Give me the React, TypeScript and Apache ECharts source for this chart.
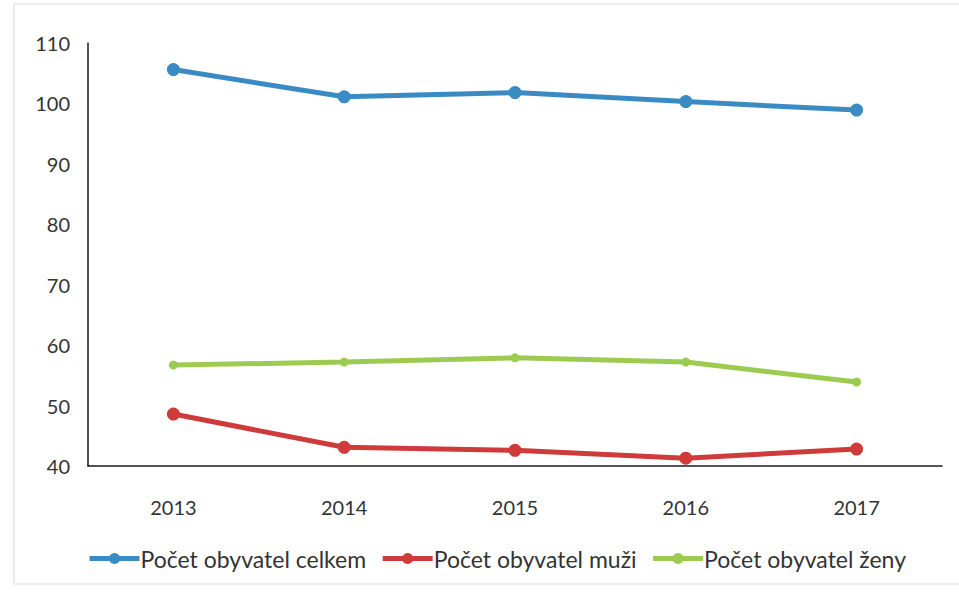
import React, { useEffect, useRef } from "react";
import * as echarts from "echarts";

const categories = ["2013", "2014", "2015", "2016", "2017"];
const celkem = [105.6, 101.1, 101.8, 100.3, 98.9];
const muzi = [48.6, 43.1, 42.6, 41.3, 42.8];
const zeny = [56.7, 57.2, 57.9, 57.2, 53.9];
const yTicks = { min: 40, max: 110, interval: 10 };

const FONT = "Lato, 'Open Sans', sans-serif";

export default function App() {
  const ref = useRef<HTMLDivElement>(null);
  useEffect(() => {
    if (!ref.current) return;
    const chart = echarts.init(ref.current, undefined, { renderer: "svg" });
    chart.setOption({
      animation: false,
      backgroundColor: "#ffffff",
      textStyle: { fontFamily: FONT },
      graphic: [
        {
          type: "rect",
          shape: { x: 14, y: 4, width: 960, height: 580 },
          style: { fill: "none", stroke: "#e6e6e6", lineWidth: 1.5 },
          silent: true,
        },
      ],
      grid: { left: 88, right: 17, top: 43, bottom: 129 },
      legend: {
        left: 82,
        top: 542,
        itemWidth: 50,
        itemHeight: 14,
        itemGap: 14,
        lineStyle: { width: 5 },
        textStyle: { fontFamily: FONT, fontSize: 23, color: "#333333", padding: [0, 0, 0, -4] },
        data: ["Počet obyvatel celkem", "Počet obyvatel muži", "Počet obyvatel ženy"],
      },
      xAxis: {
        type: "category",
        data: categories,
        boundaryGap: true,
        axisLine: { lineStyle: { color: "#1a1a1a", width: 1.5 } },
        axisTick: { show: false },
        axisLabel: { fontFamily: FONT, fontSize: 20, color: "#333333", margin: 31 },
        splitLine: { show: false },
      },
      yAxis: {
        type: "value",
        min: yTicks.min,
        max: yTicks.max,
        interval: yTicks.interval,
        axisLine: { show: true, lineStyle: { color: "#1a1a1a", width: 1.5 } },
        axisTick: { show: false },
        axisLabel: { fontFamily: FONT, fontSize: 20, color: "#333333", margin: 18 },
        splitLine: { show: false },
      },
      series: [
        {
          name: "Počet obyvatel celkem",
          type: "line",
          data: celkem,
          symbol: "circle",
          symbolSize: 13,
          color: "#3A8BC4",
          lineStyle: { width: 5, color: "#3A8BC4" },
          itemStyle: { color: "#3A8BC4" },
        },
        {
          name: "Počet obyvatel muži",
          type: "line",
          data: muzi,
          symbol: "circle",
          symbolSize: 13,
          color: "#CF3B3B",
          lineStyle: { width: 5, color: "#CF3B3B" },
          itemStyle: { color: "#CF3B3B" },
        },
        {
          name: "Počet obyvatel ženy",
          type: "line",
          data: zeny,
          symbol: "circle",
          symbolSize: 9,
          color: "#9DCB52",
          lineStyle: { width: 5, color: "#9DCB52" },
          itemStyle: { color: "#9DCB52" },
        },
      ],
    });
    return () => chart.dispose();
  }, []);
  return (
    <div
      ref={ref}
      style={{ position: "fixed", left: 0, top: 0, width: 959, height: 595 }}
    />
  );
}
